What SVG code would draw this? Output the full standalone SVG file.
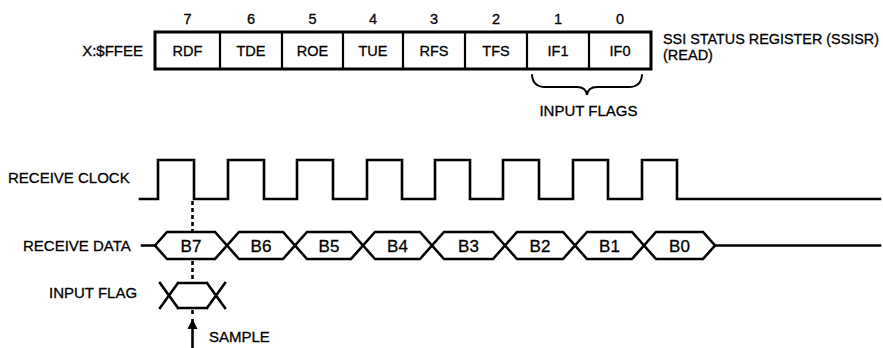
<svg xmlns="http://www.w3.org/2000/svg" width="883" height="348" viewBox="0 0 883 348">
<defs>
<style>
text{font-family:"Liberation Sans",Arial,sans-serif;fill:#000;stroke:#000;stroke-width:0.3;}
.lbl{font-size:15px;}
.cell{font-size:14.5px;text-anchor:middle;}
.bit{font-size:14.5px;text-anchor:middle;}
.b{font-size:17px;text-anchor:middle;}
.w{fill:none;stroke:#000;stroke-width:2.6;stroke-linejoin:miter;stroke-linecap:square;}
.dot{fill:none;stroke:#000;stroke-width:2.6;stroke-dasharray:4 3;}
</style>
<marker id="ah" viewBox="0 0 10 14" refX="10" refY="7" markerWidth="10" markerHeight="14" markerUnits="userSpaceOnUse" orient="auto">
<path d="M0,2 L10,7 L0,12 Z" fill="#000"/>
</marker>
</defs>
<rect width="883" height="348" fill="#fff"/>

<g id="register">
<text class="lbl" x="143" y="55.5" text-anchor="end">X:$FFEE</text>
<rect x="155" y="32" width="496" height="37" fill="#fff" stroke="#000" stroke-width="3"/>
<g stroke="#000" stroke-width="2.2">
<line x1="220" y1="32" x2="220" y2="69"/>
<line x1="282" y1="32" x2="282" y2="69"/>
<line x1="343" y1="32" x2="343" y2="69"/>
<line x1="403" y1="32" x2="403" y2="69"/>
<line x1="465" y1="32" x2="465" y2="69"/>
<line x1="527" y1="32" x2="527" y2="69"/>
<line x1="589" y1="32" x2="589" y2="69"/>
</g>
<g id="bit7"><text class="bit" x="187.5" y="23.5">7</text><text class="cell" x="187.5" y="55.5">RDF</text></g>
<g id="bit6"><text class="bit" x="251" y="23.5">6</text><text class="cell" x="251" y="55.5">TDE</text></g>
<g id="bit5"><text class="bit" x="312.5" y="23.5">5</text><text class="cell" x="312.5" y="55.5">ROE</text></g>
<g id="bit4"><text class="bit" x="373" y="23.5">4</text><text class="cell" x="373" y="55.5">TUE</text></g>
<g id="bit3"><text class="bit" x="434" y="23.5">3</text><text class="cell" x="434" y="55.5">RFS</text></g>
<g id="bit2"><text class="bit" x="496" y="23.5">2</text><text class="cell" x="496" y="55.5">TFS</text></g>
<g id="bit1"><text class="bit" x="558" y="23.5">1</text><text class="cell" x="558" y="55.5">IF1</text></g>
<g id="bit0"><text class="bit" x="620" y="23.5">0</text><text class="cell" x="620" y="55.5">IF0</text></g>
<text x="663" y="44" font-size="14.5" textLength="216" lengthAdjust="spacingAndGlyphs">SSI STATUS REGISTER (SSISR)</text>
<text x="663" y="59.5" font-size="14.5">(READ)</text>
</g>

<g id="input-flags-brace">
<path class="w" style="stroke-width:2;stroke-linecap:round" d="M532,75 Q533,87 545,87 L577,87 Q586,87 587,95 Q588,87 597,87 L629,87 Q641,87 642,75"/>
<text class="lbl" x="588.5" y="116" text-anchor="middle">INPUT FLAGS</text>
</g>

<g id="receive-clock">
<text class="lbl" x="8" y="183">RECEIVE CLOCK</text>
<path class="w" d="M140,199 H158 V160 H194 V199 H228 V160 H264 V199 H297 V160 H333 V199 H367 V160 H402 V199 H435 V160 H470 V199 H503 V160 H539 V199 H573 V160 H608 V199 H642 V160 H677 V199 H880"/>
</g>

<g id="receive-data">
<text class="lbl" x="23" y="251">RECEIVE DATA</text>
<path class="w" d="M142,245.5 H155 M715,245.5 H880"/>
<polyline class="w" points="155,245.5 167,232 215,232 239,259 283,259 307,232 351,232 375,259 420,259 444,232 493,232 517,259 563,259 587,232 632,232 656,259 703,259 715,245.5"/>
<polyline class="w" points="155,245.5 167,259 215,259 239,232 283,232 307,259 351,259 375,232 420,232 444,259 493,259 517,232 563,232 587,259 632,259 656,232 703,232 715,245.5"/>
<text class="b" x="191" y="251.5">B7</text>
<text class="b" x="261" y="251.5">B6</text>
<text class="b" x="329" y="251.5">B5</text>
<text class="b" x="397.5" y="251.5">B4</text>
<text class="b" x="468.5" y="251.5">B3</text>
<text class="b" x="540" y="251.5">B2</text>
<text class="b" x="609.5" y="251.5">B1</text>
<text class="b" x="679.5" y="251.5">B0</text>
</g>

<g id="input-flag">
<text class="lbl" x="49" y="298">INPUT FLAG</text>
<path class="w" d="M160,283 L178,308 M160,308 L178,283 M178,283 H207 M178,308 H207 M207,283 L225,308 M207,308 L225,283"/>
</g>

<g id="sample">
<text class="lbl" x="209" y="342">SAMPLE</text>
</g>

<g id="connectors">
<line class="dot" x1="192.5" y1="201" x2="192.5" y2="231"/>
<line class="dot" x1="192.5" y1="261" x2="192.5" y2="282"/>
<line class="dot" x1="192.5" y1="310" x2="192.5" y2="316"/>
<line x1="192.5" y1="348" x2="192.5" y2="319" stroke="#000" stroke-width="2.6" marker-end="url(#ah)"/>
</g>
</svg>
